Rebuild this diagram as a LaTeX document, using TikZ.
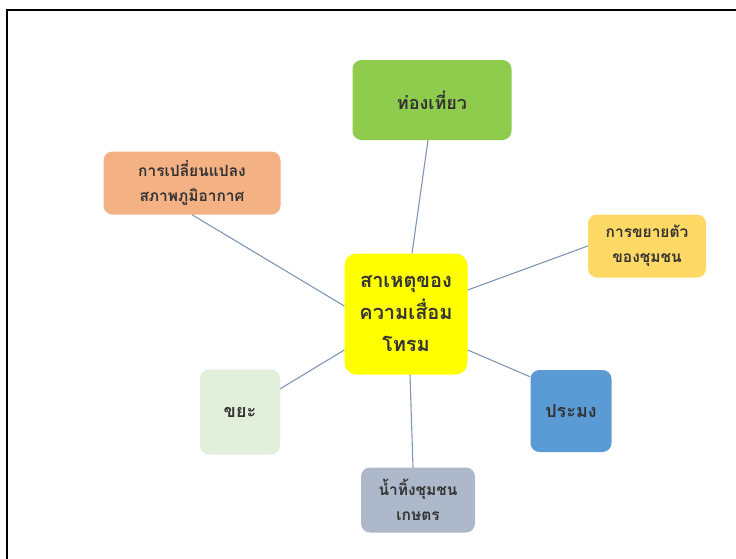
\documentclass[tikz,border=0pt]{standalone}
\usepackage{fontspec}
\newfontfamily\thaifont[Script=Thai]{Loma}
\usetikzlibrary{positioning}

\definecolor{causec}{HTML}{FFFF00}
\definecolor{tourc}{HTML}{8FCC4E}
\definecolor{climc}{HTML}{F4B183}
\definecolor{growc}{HTML}{FFD966}
\definecolor{wastec}{HTML}{E2EFDA}
\definecolor{fishc}{HTML}{5B9BD5}
\definecolor{sewc}{HTML}{ADB9CA}
\definecolor{linkc}{HTML}{7F97B2}

\begin{document}
\begin{tikzpicture}[
	x=1pt, y=-1pt,
	topic/.style={rectangle, rounded corners=9pt, inner sep=0pt, align=center, text=black!80, font=\thaifont\bfseries\fontsize{15.5}{25}\selectfont},
	link/.style={draw=linkc, line width=1.1pt}
]
\useasboundingbox (0,0) rectangle (736,558);
\fill[white] (0,0) rectangle (736,558);
\draw[line width=2pt] (7,10) rectangle (760,580);

\node[topic, fill=causec, minimum width=123pt, minimum height=121pt, rounded corners=12pt, font=\thaifont\bfseries\fontsize{20}{32}\selectfont] (cause) at (406,314) {สาเหตุของ\\ความเสื่อม\\โทรม};

\node[topic, fill=tourc, minimum width=159pt, minimum height=80pt, font=\thaifont\bfseries\fontsize{18}{25}\selectfont] (tour) at (432,100) {ท่องเที่ยว};
\node[topic, fill=climc, minimum width=177pt, minimum height=63pt] (climate) at (192,183) {การเปลี่ยนแปลง\\สภาพภูมิอากาศ};
\node[topic, fill=growc, minimum width=118pt, minimum height=63pt] (growth) at (647,246) {การขยายตัว\\ของชุมชน};
\node[topic, fill=wastec, minimum width=80pt, minimum height=85pt, font=\thaifont\bfseries\fontsize{18}{25}\selectfont] (waste) at (240,412) {ขยะ};
\node[topic, fill=fishc, minimum width=81pt, minimum height=82pt, font=\thaifont\bfseries\fontsize{18}{25}\selectfont] (fish) at (571,411) {ประมง};
\node[topic, fill=sewc, minimum width=114pt, minimum height=65pt] (sewage) at (418,500) {น้ำทิ้งชุมชน\\เกษตร};

\draw[link] ([xshift=6pt]cause.north) -- ([xshift=-4pt]tour.south);
\draw[link] ([yshift=8pt]cause.west) -- (climate.south);
\draw[link] ([yshift=24pt]cause.east) -- (growth.west);
\draw[link] ([yshift=-36pt]cause.west) -- (waste.30);
\draw[link] ([yshift=-36pt]cause.east) -- (fish.140);
\draw[link] ([xshift=4pt]cause.south) -- ([xshift=-5pt]sewage.north);

\end{tikzpicture}
\end{document}
